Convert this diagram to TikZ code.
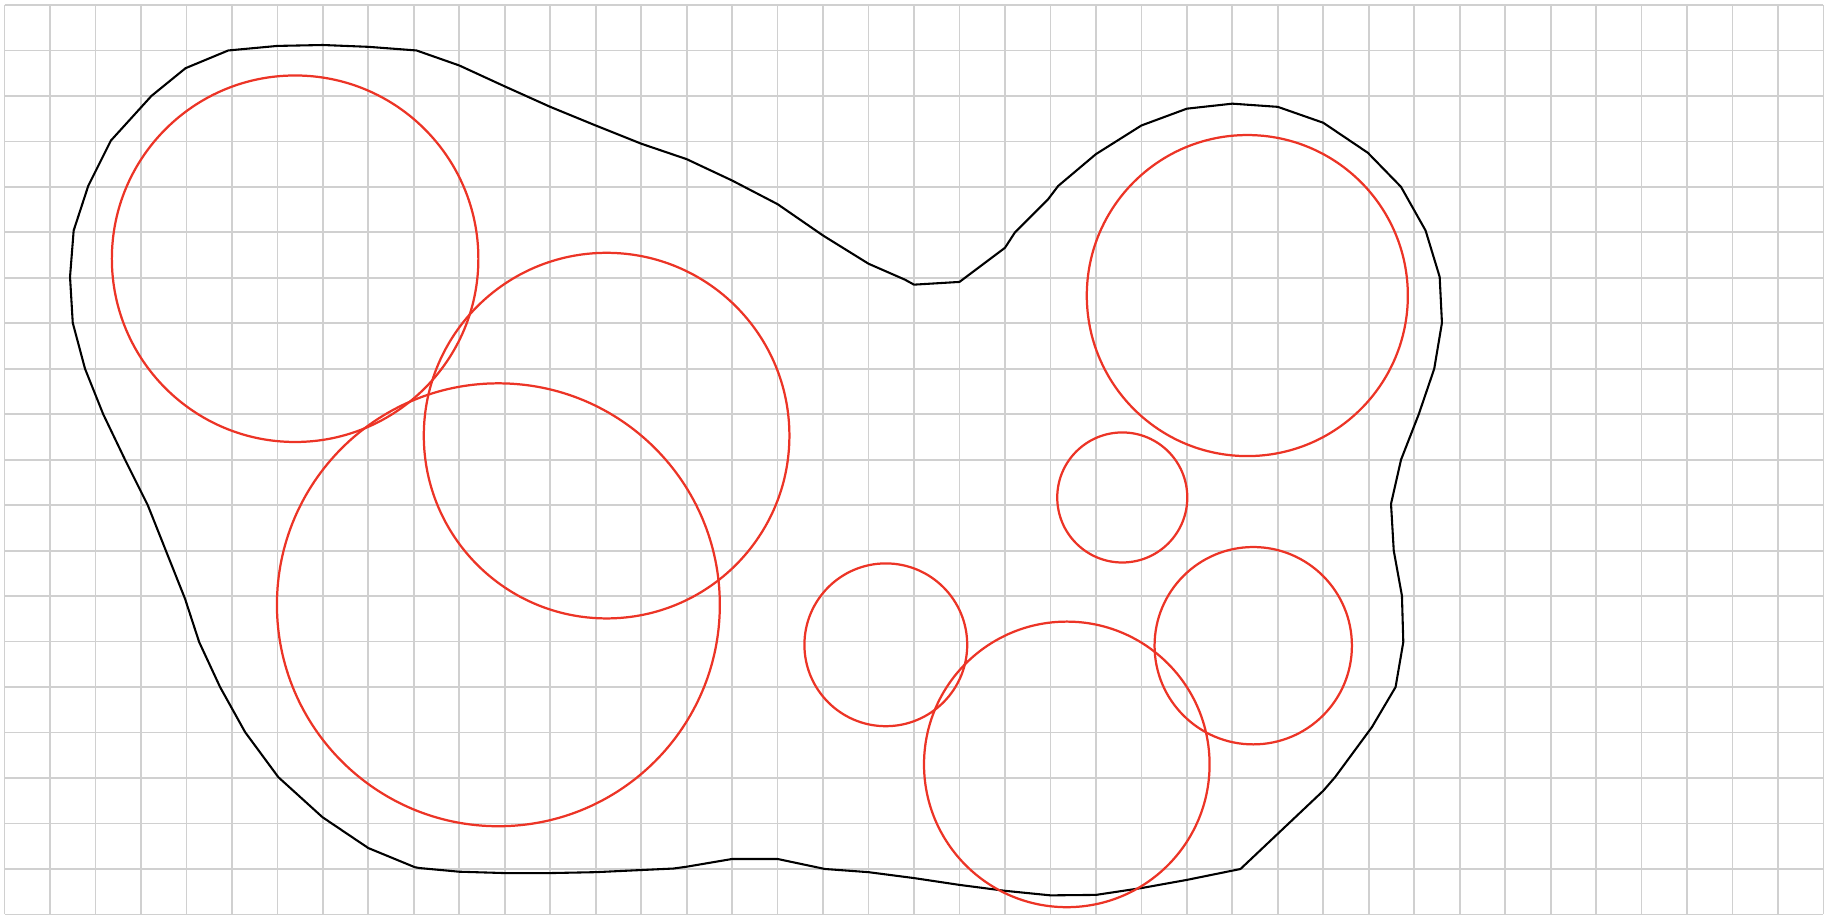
\documentclass[tikz,border=0pt]{standalone}
\usepackage{xcolor}
\usepackage{tikz}
\definecolor{gridgray}{RGB}{208,208,208}
\definecolor{circred}{RGB}{236,52,38}

\begin{document}
\begin{tikzpicture}[x=0.5cm,y=-0.5cm,
  gridline/.style={draw=gridgray,line width=0.55pt},
  outline/.style={draw=black,line width=0.65pt,line join=round},
  disc/.style={draw=circred,line width=0.7pt}]
\useasboundingbox (-0.1,-0.11) rectangle (40.1,20.12);
% grid, 40 x 20 cells
\foreach \i in {0,...,40} \draw[gridline] (\i,0) -- (\i,20);
\foreach \j in {0,...,20} \draw[gridline] (0,\j) -- (40,\j);
% boundary
\draw[outline] (4.92,1.0) -- (6.0,0.9) -- (7.0,0.88) -- (8.0,0.92) -- (9.06,1.0)
  -- (10.0,1.33) -- (11.0,1.79) -- (12.0,2.24) -- (13.0,2.65) -- (14.0,3.05)
  -- (15.0,3.39) -- (16.0,3.86) -- (17.0,4.38) -- (18.0,5.07) -- (19.0,5.69)
  -- (19.8,6.04) -- (20.0,6.15) -- (21.0,6.09) -- (22.0,5.34) -- (22.22,5.0)
  -- (22.95,4.27) -- (23.17,3.98) -- (24.0,3.28) -- (25.0,2.65) -- (26.0,2.28)
  -- (27.0,2.17) -- (28.0,2.24) -- (29.0,2.59) -- (29.98,3.25) -- (30.71,4.0)
  -- (31.25,4.96) -- (31.56,5.98) -- (31.61,6.99) -- (31.44,8.0) -- (31.1,9.0)
  -- (30.71,10.0) -- (30.49,10.97) -- (30.55,12.0) -- (30.73,12.99) -- (30.76,14.01)
  -- (30.59,15.0) -- (30.07,15.88) -- (29.26,16.98) -- (29.0,17.28) -- (27.18,19.0)
  -- (26.0,19.24) -- (25.0,19.42) -- (24.0,19.57) -- (23.0,19.58) -- (22.0,19.48)
  -- (21.0,19.35) -- (20.0,19.2) -- (19.0,19.07) -- (18.04,19.0) -- (17.0,18.78)
  -- (16.0,18.78) -- (15.0,18.95) -- (14.71,18.99) -- (13.0,19.07) -- (12.0,19.09)
  -- (11.0,19.09) -- (10.0,19.06) -- (9.13,18.98) -- (9.02,18.96) -- (8.0,18.54)
  -- (6.99,17.86) -- (6.02,16.98) -- (5.29,15.99) -- (4.74,15.0) -- (4.28,14.01)
  -- (3.97,13.06) -- (3.15,11.0) -- (2.65,10.0) -- (2.17,9.0) -- (1.77,8.0)
  -- (1.50,6.99) -- (1.44,5.98) -- (1.52,4.96) -- (1.84,3.98) -- (2.34,2.98)
  -- (3.23,2.0) -- (3.98,1.39) -- cycle;
% packed circles: centre x, centre y, radius
\foreach \cx/\cy/\r in {6.39/5.58/4.03, 13.24/9.47/4.02, 10.86/13.19/4.87,
    19.38/14.07/1.79, 23.36/16.7/3.14, 24.58/10.83/1.43,
    27.46/14.09/2.17, 27.33/6.39/3.53}
  \draw[disc] (\cx,\cy) circle[radius=\r];
\end{tikzpicture}
\end{document}
